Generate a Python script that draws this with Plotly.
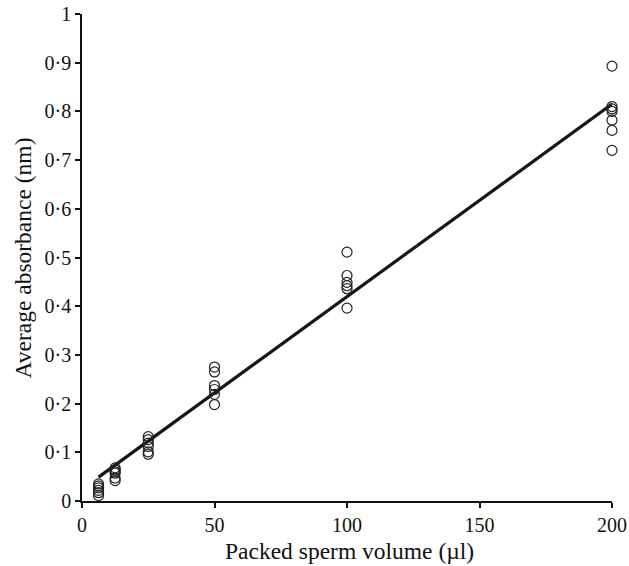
import plotly.graph_objects as go

vol_6 = [6.25] * 6
abs_6 = [0.035, 0.031, 0.027, 0.022, 0.017, 0.011]
vol_12 = [12.5] * 6
abs_12 = [0.068, 0.064, 0.060, 0.057, 0.047, 0.042]
vol_25 = [25] * 6
abs_25 = [0.132, 0.126, 0.119, 0.112, 0.101, 0.096]
vol_50 = [50] * 6
abs_50 = [0.275, 0.265, 0.237, 0.229, 0.219, 0.198]
vol_100 = [100] * 6
abs_100 = [0.511, 0.463, 0.449, 0.442, 0.436, 0.396]
vol_200 = [200] * 7
abs_200 = [0.893, 0.810, 0.805, 0.800, 0.782, 0.761, 0.720]

# Regression line end points
line_x = [6.25, 200]
line_y = [0.049, 0.815]

x_ticks = [0, 50, 100, 150, 200]
y_ticks = [0, 0.1, 0.2, 0.3, 0.4, 0.5, 0.6, 0.7, 0.8, 0.9, 1]
y_tick_labels = ["0", "0·1", "0·2", "0·3", "0·4", "0·5", "0·6", "0·7", "0·8", "0·9", "1"]

xs = vol_6 + vol_12 + vol_25 + vol_50 + vol_100 + vol_200
ys = abs_6 + abs_12 + abs_25 + abs_50 + abs_100 + abs_200

fig = go.Figure()
fig.add_trace(go.Scatter(
    x=line_x, y=line_y, mode="lines",
    line=dict(color="#161616", width=3.2),
    showlegend=False, hoverinfo="skip", cliponaxis=False,
))
fig.add_trace(go.Scatter(
    x=xs, y=ys, mode="markers",
    marker=dict(symbol="circle-open", size=10, color="#222222", line=dict(width=1.2)),
    showlegend=False, cliponaxis=False,
))

font_family = "Liberation Serif, Times New Roman, serif"
fig.update_layout(
    width=629, height=566,
    margin=dict(l=82, r=17, t=14, b=65, autoexpand=False),
    paper_bgcolor="white", plot_bgcolor="white",
    font=dict(family=font_family, size=20, color="#111111"),
    xaxis=dict(
        range=[0, 200], tickvals=x_ticks, ticktext=[str(v) for v in x_ticks],
        showgrid=False, zeroline=False, showline=True, linecolor="#111111", linewidth=1.5,
        ticks="outside", ticklen=5, tickwidth=1.5, tickcolor="#111111", automargin=False,
    ),
    yaxis=dict(
        range=[0, 1], tickvals=y_ticks, ticktext=y_tick_labels,
        showgrid=False, zeroline=False, showline=True, linecolor="#111111", linewidth=1.5,
        ticks="outside", ticklen=5, tickwidth=1.5, tickcolor="#111111", automargin=False,
    ),
    annotations=[
        dict(text="Packed sperm volume (µl)", xref="paper", yref="paper", x=0.5, y=0,
             xshift=2, yshift=-50, xanchor="center", yanchor="middle", showarrow=False,
             font=dict(size=23.5)),
        dict(text="Average absorbance (nm)", xref="paper", yref="paper", x=0, y=0.5,
             xshift=-60, yshift=-1, xanchor="center", yanchor="middle", textangle=-90,
             showarrow=False, font=dict(size=23.5)),
    ],
)

fig.write_html(
    "out.html",
    config={"displayModeBar": False},
    post_script="document.body.style.margin='0';document.body.style.overflow='hidden';",
)
